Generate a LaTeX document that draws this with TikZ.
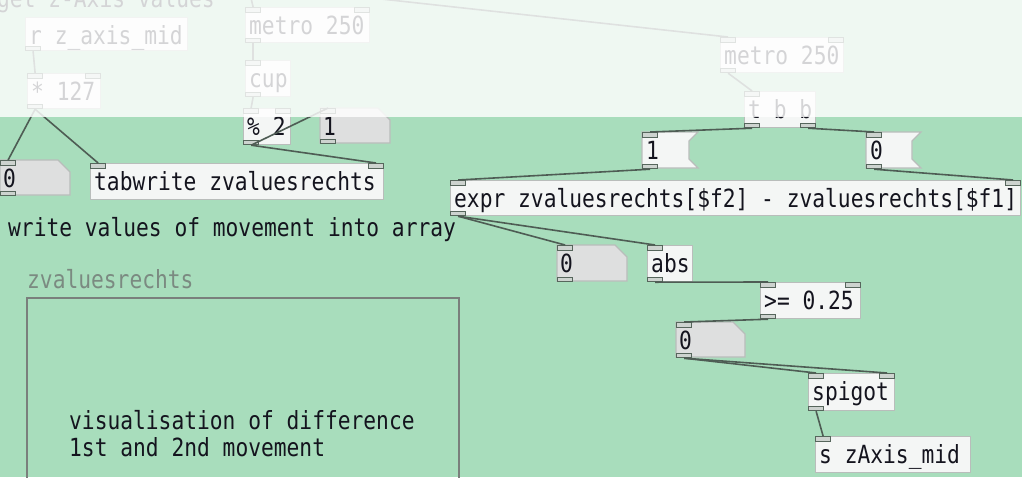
\documentclass[tikz,border=0pt]{standalone}
\usepackage{fontspec}
\newfontfamily\pdfont[FakeStretch=0.85]{DejaVu Sans Mono}

\definecolor{patchbg}{HTML}{A8DDBC}
\definecolor{boxfill}{HTML}{F4F6F5}
\definecolor{boxline}{HTML}{B9BDBB}
\definecolor{numfill}{HTML}{DEDFDF}
\definecolor{portline}{HTML}{56665C}
\definecolor{portfill}{HTML}{CDD3CF}
\definecolor{wire}{HTML}{4E5C54}
\definecolor{inktext}{HTML}{14141E}
\definecolor{labelgrey}{HTML}{7B8A81}
\definecolor{arrayline}{HTML}{7A7F7C}

\tikzset{
  pdtext/.style={font=\pdfont\fontsize{25}{27}\selectfont, text=inktext, inner sep=0pt, anchor=base west},
  objframe/.style={draw=boxline, fill=boxfill, line width=1.2pt},
  numframe/.style={draw=boxline, fill=numfill, line width=1.2pt},
  holder/.style={inner sep=0pt, anchor=north west},
  port/.style={draw=portline, fill=portfill, line width=1.2pt, minimum width=15pt,
    minimum height=4.5pt, inner sep=0pt, anchor=north west},
  pdwire/.style={draw=wire, line width=1.6pt},
}

% object box: name, x1, y1, x2, y2, text
\newcommand\pdobj[6]{%
  \node[holder, objframe, minimum width={(#4-(#2))*1pt}, minimum height={(#5-(#3))*1pt}] (#1) at (#2,#3) {};
  \node[pdtext] (#1-t) at (#2+4,#3+27) {#6};
}
% number box with clipped corner
\newcommand\pdnum[6]{%
  \path[numframe] (#2,#3) -- (#4-12,#3) -- (#4,#3+12) -- (#4,#5) -- (#2,#5) -- cycle;
  \node[holder, minimum width={(#4-(#2))*1pt}, minimum height={(#5-(#3))*1pt}] (#1) at (#2,#3) {};
  \node[pdtext] (#1-t) at (#2+3,#3+27) {#6};
}
% message box with notched right edge
\newcommand\pdmsg[6]{%
  \path[objframe] (#2,#3) -- (#4,#3) -- (#4-9,#3+9) -- (#4-9,#5-9) -- (#4,#5) -- (#2,#5) -- cycle;
  \node[holder, minimum width={(#4-(#2))*1pt}, minimum height={(#5-(#3))*1pt}] (#1) at (#2,#3) {};
  \node[pdtext] (#1-t) at (#2+4,#3+27) {#6};
}
\newcommand\pdport[3]{\node[port] (#1) at (#2,#3) {};}

\begin{document}
\begin{tikzpicture}[x=1pt, y=-1pt]
\useasboundingbox (0,0) rectangle (1022,477);
\clip (0,0) rectangle (1022,477);
\fill[patchbg] (0,0) rectangle (1022,477);

% ---- left chain: receive, scale, write into table
\node[pdtext] (title) at (-3,7) {get z-Axis values};
\pdobj{rz}{25}{17}{187}{50}{r z\_axis\_mid}
\pdport{rz-o}{25}{45.5}
\pdobj{mul}{27}{73}{100}{108}{* 127}
\pdport{mul-i1}{27}{73}\pdport{mul-i2}{85}{73}\pdport{mul-o}{27}{103.5}
\pdnum{nba}{0}{160}{70}{195}{0}
\pdport{nba-i}{0}{160}\pdport{nba-o}{0}{190.5}
\pdobj{tw}{90}{163}{383}{199}{tabwrite zvaluesrechts}
\pdport{tw-i1}{90}{163}\pdport{tw-i2}{368}{163}

% ---- index counter
\pdobj{metl}{245}{7}{369}{42}{metro 250}
\pdport{metl-i1}{245}{7}\pdport{metl-i2}{354}{7}\pdport{metl-o}{245}{37.5}
\pdobj{cup}{245}{60}{290}{96}{cup}
\pdport{cup-i}{245}{60}\pdport{cup-o}{245}{91.5}
\pdobj{mod}{243}{108}{290}{144}{\% 2}
\pdport{mod-i1}{243}{108}\pdport{mod-i2}{275}{108}\pdport{mod-o}{243}{139.5}
\pdnum{nbb}{320}{108}{390}{143}{1}
\pdport{nbb-i}{320}{108}\pdport{nbb-o}{320}{138.5}

% ---- comments and table
\node[pdtext] (cwrite) at (8,236) {write values of movement into array};
\node[pdtext, text=labelgrey] (arrname) at (27,288) {zvaluesrechts};
\draw[arrayline, line width=1.8pt] (27,298) rectangle (459,490);
\node[pdtext] (cvis1) at (69,429) {visualisation of difference};
\node[pdtext] (cvis2) at (69,456) {1st and 2nd movement};

% ---- right chain: difference, threshold, gate, send
\pdobj{metr}{720}{37}{843}{72}{metro 250}
\pdport{metr-i1}{720}{37}\pdport{metr-i2}{828}{37}\pdport{metr-o}{720}{67.5}
\pdobj{tbb}{744}{91}{815}{127}{t b b}
\pdport{tbb-i}{744}{91}\pdport{tbb-o1}{744}{122.5}\pdport{tbb-o2}{800}{122.5}
\pdmsg{mone}{642}{132}{698}{168}{1}
\pdport{mone-i}{642}{132}\pdport{mone-o}{642}{163.5}
\pdmsg{mzero}{866}{132}{921}{168}{0}
\pdport{mzero-i}{866}{132}\pdport{mzero-o}{866}{163.5}
\pdobj{expr}{450}{180}{1020}{215}{expr zvaluesrechts[\$f2] - zvaluesrechts[\$f1]}
\pdport{expr-i1}{450}{180}\pdport{expr-i2}{1005}{180}\pdport{expr-o}{450}{210.5}
\pdnum{nbc}{557}{245}{627}{281}{0}
\pdport{nbc-i}{557}{245}\pdport{nbc-o}{557}{276.5}
\pdobj{abs}{647}{245}{692}{281}{abs}
\pdport{abs-i}{647}{245}\pdport{abs-o}{647}{276.5}
\pdobj{ge}{760}{282}{860}{318}{>= 0.25}
\pdport{ge-i1}{760}{282}\pdport{ge-i2}{845}{282}\pdport{ge-o}{760}{313.5}
\pdnum{nbd}{676}{322}{745}{357}{0}
\pdport{nbd-i}{676}{322}\pdport{nbd-o}{676}{352.5}
\pdobj{spig}{808}{373}{894}{410}{spigot}
\pdport{spig-i1}{808}{373}\pdport{spig-i2}{879}{373}\pdport{spig-o}{808}{405.5}
\pdobj{snd}{815}{436}{970}{472}{s zAxis\_mid}
\pdport{snd-i}{815}{436}

% ---- connections
\coordinate (srcl) at (251,-2);
\coordinate (srcr) at (372,-2);
\draw[pdwire] (srcl) -- (metl-i1.north);
\draw[pdwire] (srcr) -- (metr-i1.north);
\draw[pdwire] (rz-o.south) -- (mul-i1.north);
\draw[pdwire] (mul-o.south) -- (nba-i.north);
\draw[pdwire] (mul-o.south) -- (tw-i1.north);
\draw[pdwire] (metl-o.south) -- (cup-i.north);
\draw[pdwire] (cup-o.south) -- (mod-i1.north);
\draw[pdwire] (mod-o.south) -- (nbb-i.north);
\draw[pdwire] (mod-o.south) -- (tw-i2.north);
\draw[pdwire] (metr-o.south) -- (tbb-i.north);
\draw[pdwire] (tbb-o1.south) -- (mone-i.north);
\draw[pdwire] (tbb-o2.south) -- (mzero-i.north);
\draw[pdwire] (mone-o.south) -- (expr-i1.north);
\draw[pdwire] (mzero-o.south) -- (expr-i2.north);
\draw[pdwire] (expr-o.south) -- (nbc-i.north);
\draw[pdwire] (expr-o.south) -- (abs-i.north);
\draw[pdwire] (abs-o.south) -- (ge-i1.north);
\draw[pdwire] (ge-o.south) -- (nbd-i.north);
\draw[pdwire] (nbd-o.south) -- (spig-i1.north);
\draw[pdwire] (nbd-o.south) -- (spig-i2.north);
\draw[pdwire] (spig-o.south) -- (snd-i.north);

% ---- pale wash over the upper strip
\fill[white, opacity=0.82] (0,0) rectangle (1022,117);
\end{tikzpicture}
\end{document}
